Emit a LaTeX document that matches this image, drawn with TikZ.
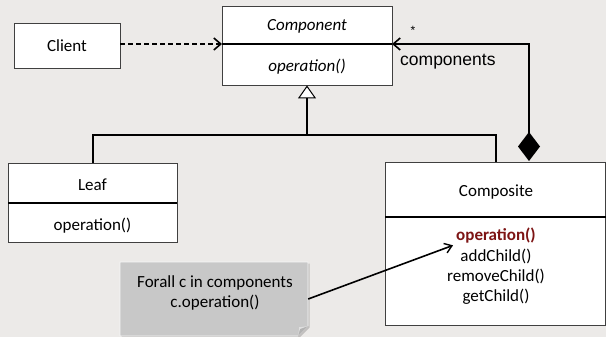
\documentclass[tikz,border=0pt]{standalone}
\usepackage{fontspec}
\setmainfont{Carlito}
\newfontfamily\arialf{Liberation Sans}
\usetikzlibrary{arrows.meta,shadows}
\definecolor{bgc}{RGB}{236,234,232}
\definecolor{notec}{RGB}{200,200,200}
\definecolor{darkredc}{RGB}{125,20,20}
\tikzset{
  umlbox/.style={draw=black!75, line width=0.9pt, fill=white, inner sep=0pt,
    drop shadow={shadow xshift=1.2pt, shadow yshift=-1.2pt, opacity=0.25, fill=black}},
  divider/.style={line width=1.8pt, black},
  conn/.style={line width=2pt, black},
  lbl/.style={inner sep=0pt, font=\fontsize{17}{20.4}\selectfont},
  barb/.style={-{Straight Barb[length=7pt,width=12pt,line width=1.6pt]}}
}
\begin{document}
\begin{tikzpicture}[x=1pt,y=-1pt]
\path[fill=bgc] (0,0) rectangle (606,337);
\useasboundingbox (0,0) rectangle (606,337);

% Client
\node[umlbox, minimum width=106pt, minimum height=45pt, lbl] (client) at (67,45.5) {Client};

% Component
\node[umlbox, minimum width=170pt, minimum height=79pt] (comp) at (307,45.5) {};
\draw[divider] (222,44) -- (392,44);
\node[lbl] (compname) at (307,26.5) {\itshape Component};
\node[lbl] (compop) at (307,67) {\itshape operation()};
\coordinate (compL) at (222,44);
\coordinate (compR) at (392,44);

% Leaf
\node[umlbox, minimum width=169pt, minimum height=79pt] (leaf) at (92.5,202.5) {};
\draw[divider] (8,203) -- (177,203);
\node[lbl] (leafname) at (92.5,184.5) {Leaf};
\node[lbl] (leafop) at (92.5,226) {operation()};

% Composite
\node[umlbox, minimum width=220pt, minimum height=163pt] (compo) at (495.5,243.5) {};
\draw[divider] (385,217) -- (606,217);
\node[lbl] (componame) at (496,192.5) {Composite};
\node[lbl, text=darkredc] (opc) at (496,235.5) {\bfseries operation()};
\node[lbl] (addc) at (496,256) {addChild()};
\node[lbl] (remc) at (496,276.5) {removeChild()};
\node[lbl] (getc) at (496,297) {getChild()};

% Note
\node[minimum width=188pt, minimum height=74pt, inner sep=0pt] (note) at (214,299) {};
\fill[black, opacity=0.18] (121.5,263.5) -- (309.5,263.5) -- (309.5,327.5) -- (299.5,337.5) -- (121.5,337.5) -- cycle;
\fill[notec] (120,262) -- (308,262) -- (308,326) -- (298,336) -- (120,336) -- cycle;
\draw[white!85!notec, line width=0.6pt] (120,262) -- (308,262) -- (308,326) -- (298,336) -- (120,336) -- cycle;
\fill[black!30] (308,326) -- (298,336) -- (299,327) -- cycle;
\fill[black!12] (308,326) -- (299,327) -- (298,336) -- (300,329) -- cycle;
\node[lbl, align=center] (notetext) at (215,293) {Forall c in components\\c.operation()};

% Client dependency
\draw[conn, dash pattern=on 5pt off 3pt, barb] (client.east |- compL) -- (compL);

% Generalization
\coordinate (bar) at (307,135);
\draw[conn] (leaf.north) |- (bar) -| (compo.north);
\draw[conn, -{Triangle[length=13pt,width=18pt,fill=white,line width=1pt]}] (bar) -- (comp.south);

% Composition
\coordinate (dia) at (529,161);
\draw[conn, {Diamond[length=29pt,width=22pt]}-{Straight Barb[length=7pt,width=12pt,line width=1.6pt]}] (dia) |- (compR);
\node[inner sep=0pt, font=\arialf\fontsize{12}{14}\selectfont] (mult) at (413,30) {*};
\node[inner sep=0pt, anchor=west, font=\arialf\fontsize{17.5}{20}\selectfont] (role) at (400,62) {components};

% Note link
\draw[line width=1.6pt, -{Straight Barb[length=7pt,width=10pt,line width=1.4pt]}] (note.east) -- ([xshift=-3pt,yshift=-2pt]opc.south west);
\end{tikzpicture}
\end{document}
